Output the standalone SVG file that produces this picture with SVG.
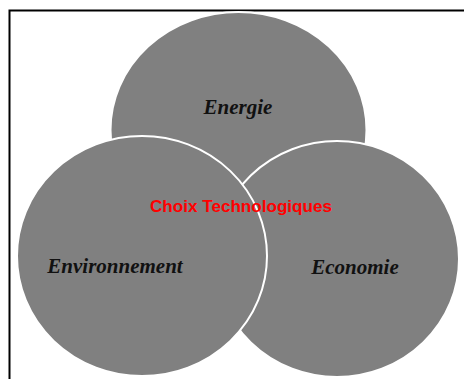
<svg xmlns="http://www.w3.org/2000/svg" width="464" height="379" viewBox="0 0 464 379">
<style>
.c{fill:#808080;stroke:#ffffff;stroke-width:2}
.t{font-family:"Liberation Serif",serif;font-weight:bold;font-style:italic;font-size:21px;fill:#111;text-anchor:middle}
.r{font-family:"Liberation Sans",sans-serif;font-weight:bold;font-size:16.5px;fill:#ff0000;text-anchor:middle}
</style>
<rect x="0" y="0" width="464" height="379" fill="#ffffff"/>
<path d="M9.5,379 V10.5 H464" fill="none" stroke="#000" stroke-width="2"/>
<g id="energie">
<ellipse class="c" cx="238.5" cy="130" rx="128" ry="118" stroke="none"/>
<text class="t" x="238" y="114">Energie</text>
</g>
<g id="economie">
<ellipse class="c" cx="337" cy="259" rx="122" ry="118"/>
<text class="t" x="355" y="274">Economie</text>
</g>
<g id="environnement">
<ellipse class="c" cx="142" cy="256" rx="125" ry="120"/>
<text class="t" x="115" y="273">Environnement</text>
</g>
<g id="connectors"></g>
<g id="centre">
<text class="r" x="241" y="211.5" textLength="182" lengthAdjust="spacingAndGlyphs">Choix Technologiques</text>
</g>
</svg>
